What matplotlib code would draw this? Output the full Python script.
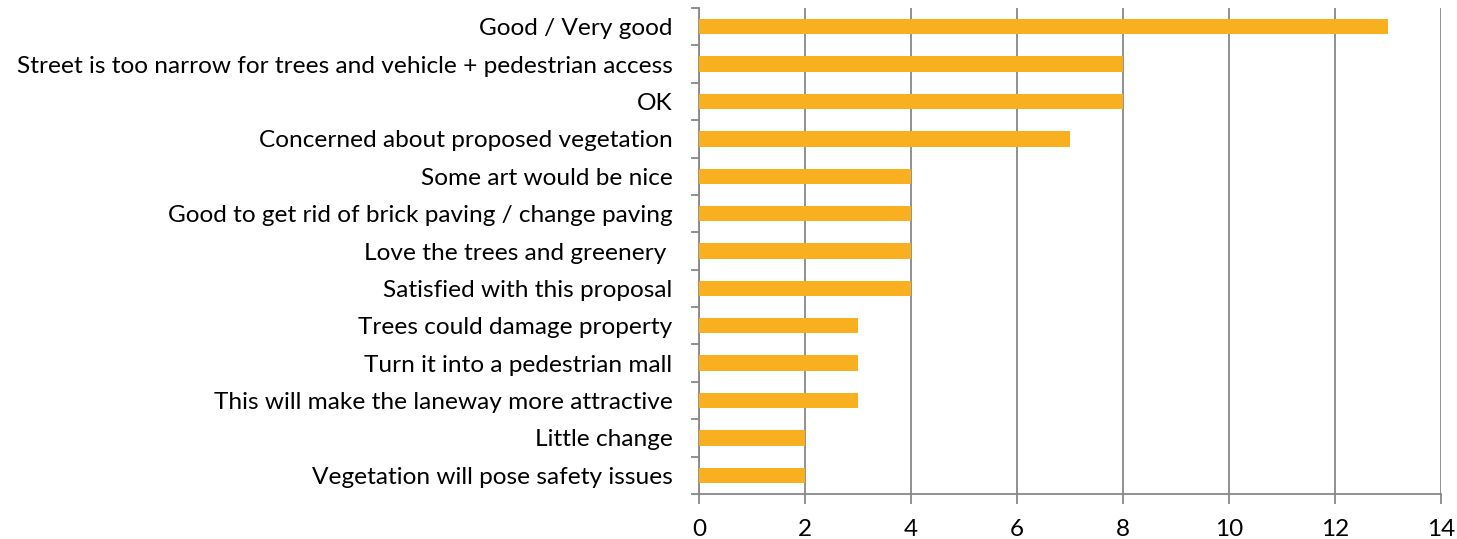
import matplotlib
matplotlib.use("Agg")
import matplotlib.pyplot as plt
import numpy as np

categories = [
    "Good / Very good",
    "Street is too narrow for trees and vehicle + pedestrian access",
    "OK",
    "Concerned about proposed vegetation",
    "Some art would be nice",
    "Good to get rid of brick paving / change paving",
    "Love the trees and greenery ",
    "Satisfied with this proposal",
    "Trees could damage property",
    "Turn it into a pedestrian mall",
    "This will make the laneway more attractive",
    "Little change",
    "Vegetation will pose safety issues",
]
values = [13, 8, 8, 7, 4, 4, 4, 4, 3, 3, 3, 2, 2]
xticks = [0, 2, 4, 6, 8, 10, 12, 14]

plt.rcParams['font.family'] = ['Lato', 'DejaVu Sans']

fig = plt.figure(figsize=(14.57, 5.39), dpi=100)
ax = fig.add_axes([699/1457, 1-494/539, (1441-699)/1457, (494-8)/539])

n = len(categories)
y = np.arange(n)[::-1]
ax.barh(y, values, height=0.41, color="#F8B020", zorder=3)

ax.set_xlim(0, 14)
ax.set_ylim(-0.5, n-0.5)
ax.set_xticks(xticks)
ax.set_xticklabels([str(t) for t in xticks], fontsize=17.5)
ax.xaxis.grid(True, color="#888888", linewidth=1.3, zorder=0)

ax.set_yticks(np.arange(-0.5, n, 1.0))
ax.set_yticklabels([])
ax.set_yticks(y, minor=True)
ax.set_yticklabels(categories, minor=True, fontsize=17.6)
ax.tick_params(axis='y', which='minor', length=0, pad=19)
ax.tick_params(axis='y', which='major', length=6, width=1.3, color="#888888")
ax.tick_params(axis='x', length=7, width=1.3, color="#888888", pad=11)

for s in ["top", "right"]:
    ax.spines[s].set_visible(False)
for s in ["left", "bottom"]:
    ax.spines[s].set_color("#888888")
    ax.spines[s].set_linewidth(1.3)

fig.savefig("out.png", dpi=100)
